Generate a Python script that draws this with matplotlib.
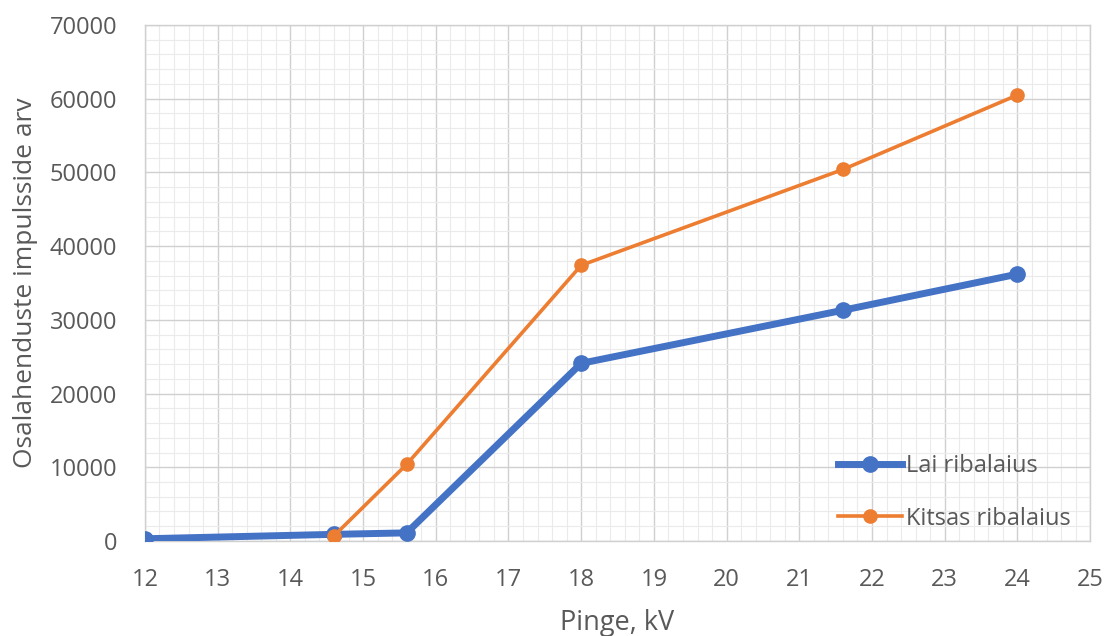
import matplotlib.pyplot as plt
from matplotlib.ticker import MultipleLocator

# Data
x_lai = [12, 14.6, 15.6, 18, 21.6, 24]
y_lai = [300, 900, 1100, 24100, 31300, 36200]

x_kitsas = [14.6, 15.6, 18, 21.6, 24]
y_kitsas = [700, 10400, 37400, 50400, 60500]

labels = ["Lai ribalaius", "Kitsas ribalaius"]

plt.rcParams['font.family'] = ['Open Sans', 'DejaVu Sans']
text_col = '#595959'

fig = plt.figure(figsize=(11.09, 6.36), dpi=100)
ax = fig.add_axes([0.1307, 0.1494, 0.8523, 0.8113])

ax.plot(x_lai, y_lai, color='#4472C4', lw=5, marker='o', ms=11,
        label=labels[0], zorder=3)
ax.plot(x_kitsas, y_kitsas, color='#ED7D31', lw=2.6, marker='o', ms=9.5,
        label=labels[1], zorder=4)

ax.set_xlim(12, 25)
ax.set_ylim(0, 70000)
ax.xaxis.set_major_locator(MultipleLocator(1))
ax.xaxis.set_minor_locator(MultipleLocator(0.2))
ax.yaxis.set_major_locator(MultipleLocator(10000))
ax.yaxis.set_minor_locator(MultipleLocator(2000))

ax.grid(which='major', color='#d0d0d0', lw=1.0, zorder=0)
ax.grid(which='minor', color='#ebebeb', lw=0.8, zorder=0)
ax.set_axisbelow(True)

for s in ax.spines.values():
    s.set_color('#d0d0d0')
    s.set_linewidth(1.0)

ax.tick_params(which='both', length=0, labelsize=17, labelcolor=text_col)
ax.tick_params(axis='x', pad=19.5)
ax.tick_params(axis='y', pad=20)

ax.set_xlabel("Pinge, kV", fontsize=19.5, color=text_col, labelpad=12.5)
ax.set_ylabel("Osalahenduste impulsside arv", fontsize=19, color=text_col, labelpad=8)

leg = ax.legend(loc='upper left', bbox_to_anchor=(0.733, 0.168), frameon=False,
                fontsize=17, handlelength=2.7, handletextpad=0.2,
                labelspacing=1.2, borderaxespad=0, borderpad=0)
for t in leg.get_texts():
    t.set_color(text_col)

plt.savefig('out.png', dpi=100)
